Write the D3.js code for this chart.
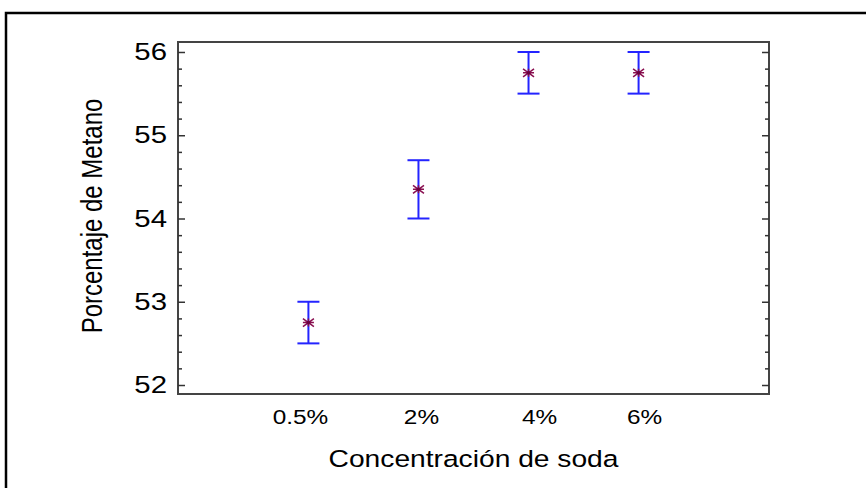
<!DOCTYPE html>
<html>
<head>
<meta charset="utf-8">
<script src="https://cdn.jsdelivr.net/npm/d3@7"></script>
<style>
  html, body { margin: 0; padding: 0; background: #fff; }
  svg { display: block; }
  text { font-family: "Liberation Sans", Arial, sans-serif; fill: #000; }
</style>
</head>
<body>
<svg id="chart" width="866" height="488"></svg>
<script>
// ---- data ----
const categories = ["0.5%", "2%", "4%", "6%"];
const means = [52.75, 54.35, 55.75, 55.75];
const errors = [0.25, 0.35, 0.25, 0.25];
const yTicks = [52, 53, 54, 55, 56];
const xTitle = "Concentración de soda";
const yTitle = "Porcentaje de Metano";

// ---- layout ----
const W = 866, H = 488;
const plot = { left: 178, right: 769, top: 42, bottom: 394 };
const labelNudge = [-8, 3, 11, 6]; // horizontal offsets of category labels as in reference
const svg = d3.select("#chart");

// outer frame (extends past right/bottom edge)
svg.append("rect")
  .attr("x", 6).attr("y", 13).attr("width", W + 20).attr("height", H + 20)
  .attr("fill", "none").attr("stroke", "#000").attr("stroke-width", 2.5);

const x = d3.scaleLinear().domain([-1.185, 4.185]).range([plot.left, plot.right]);
const y = d3.scaleLinear().domain([51.892, 56.12]).range([plot.bottom, plot.top]);

// plot border
svg.append("rect")
  .attr("x", plot.left).attr("y", plot.top)
  .attr("width", plot.right - plot.left).attr("height", plot.bottom - plot.top)
  .attr("fill", "none").attr("stroke", "#444").attr("stroke-width", 2);

// ticks: major (1) and minor (0.2), inward on left and right
const minorTicks = d3.range(52, 56.001, 0.2).map(v => +v.toFixed(1)).filter(v => !yTicks.includes(v));

const leftAxis = d3.axisRight(y).tickValues(yTicks).tickSize(7).tickFormat("");
const leftMinor = d3.axisRight(y).tickValues(minorTicks).tickSize(4).tickFormat("");
const rightAxis = d3.axisLeft(y).tickValues(yTicks).tickSize(7).tickFormat("");
const rightMinor = d3.axisLeft(y).tickValues(minorTicks).tickSize(4).tickFormat("");

[[leftAxis, plot.left], [leftMinor, plot.left], [rightAxis, plot.right], [rightMinor, plot.right]].forEach(([ax, px]) => {
  const g = svg.append("g").attr("transform", `translate(${px},0)`).call(ax);
  g.select(".domain").remove();
  g.selectAll("line").attr("stroke", "#333").attr("stroke-width", 1.5);
});

// y tick labels (horizontally stretched like the reference)
const sx = 1.25;
svg.append("g").selectAll("text").data(yTicks).join("text")
  .attr("transform", d => `translate(167,${y(d)}) scale(${sx},1)`)
  .attr("text-anchor", "end").attr("dy", "0.35em")
  .style("font-size", "23.5px")
  .text(d => d);

// x tick labels
svg.append("g").selectAll("text").data(categories).join("text")
  .attr("transform", (d, i) => `translate(${x(i) + labelNudge[i]},424) scale(${sx},1)`)
  .attr("text-anchor", "middle")
  .style("font-size", "19.5px")
  .text(d => d);

// axis titles
svg.append("text")
  .attr("transform", `translate(${(plot.left + plot.right) / 2},467) scale(1.2,1)`)
  .attr("text-anchor", "middle")
  .style("font-size", "23.5px")
  .text(xTitle);

svg.append("text")
  .attr("transform", `translate(102,${(plot.top + plot.bottom) / 2 - 2}) scale(1.2,1) rotate(-90)`)
  .attr("text-anchor", "middle")
  .style("font-size", "24px")
  .text(yTitle);

// error bars
const capW = 11;
const eb = svg.append("g").attr("stroke", "#2424ff").attr("stroke-width", 2).attr("fill", "none");
categories.forEach((c, i) => {
  const cx = x(i), top = y(means[i] + errors[i]), bot = y(means[i] - errors[i]);
  eb.append("line").attr("x1", cx).attr("x2", cx).attr("y1", top).attr("y2", bot);
  eb.append("line").attr("x1", cx - capW).attr("x2", cx + capW).attr("y1", top).attr("y2", top);
  eb.append("line").attr("x1", cx - capW).attr("x2", cx + capW).attr("y1", bot).attr("y2", bot);
});

// asterisk markers
const mk = svg.append("g").attr("stroke", "#8a1050").attr("stroke-width", 1.5).attr("fill", "none");
categories.forEach((c, i) => {
  const cx = x(i), cy = y(means[i]);
  const a = 5.5, b = 4;
  mk.append("path").attr("d",
    `M${cx - a},${cy}L${cx + a},${cy}` +
    `M${cx - a},${cy - b}L${cx + a},${cy + b}` +
    `M${cx - a},${cy + b}L${cx + a},${cy - b}` +
    `M${cx},${cy - b}L${cx},${cy + b}`);
  mk.append("circle").attr("cx", cx).attr("cy", cy).attr("r", 1.8).attr("fill", "#6a0040").attr("stroke", "none");
});
</script>
</body>
</html>
